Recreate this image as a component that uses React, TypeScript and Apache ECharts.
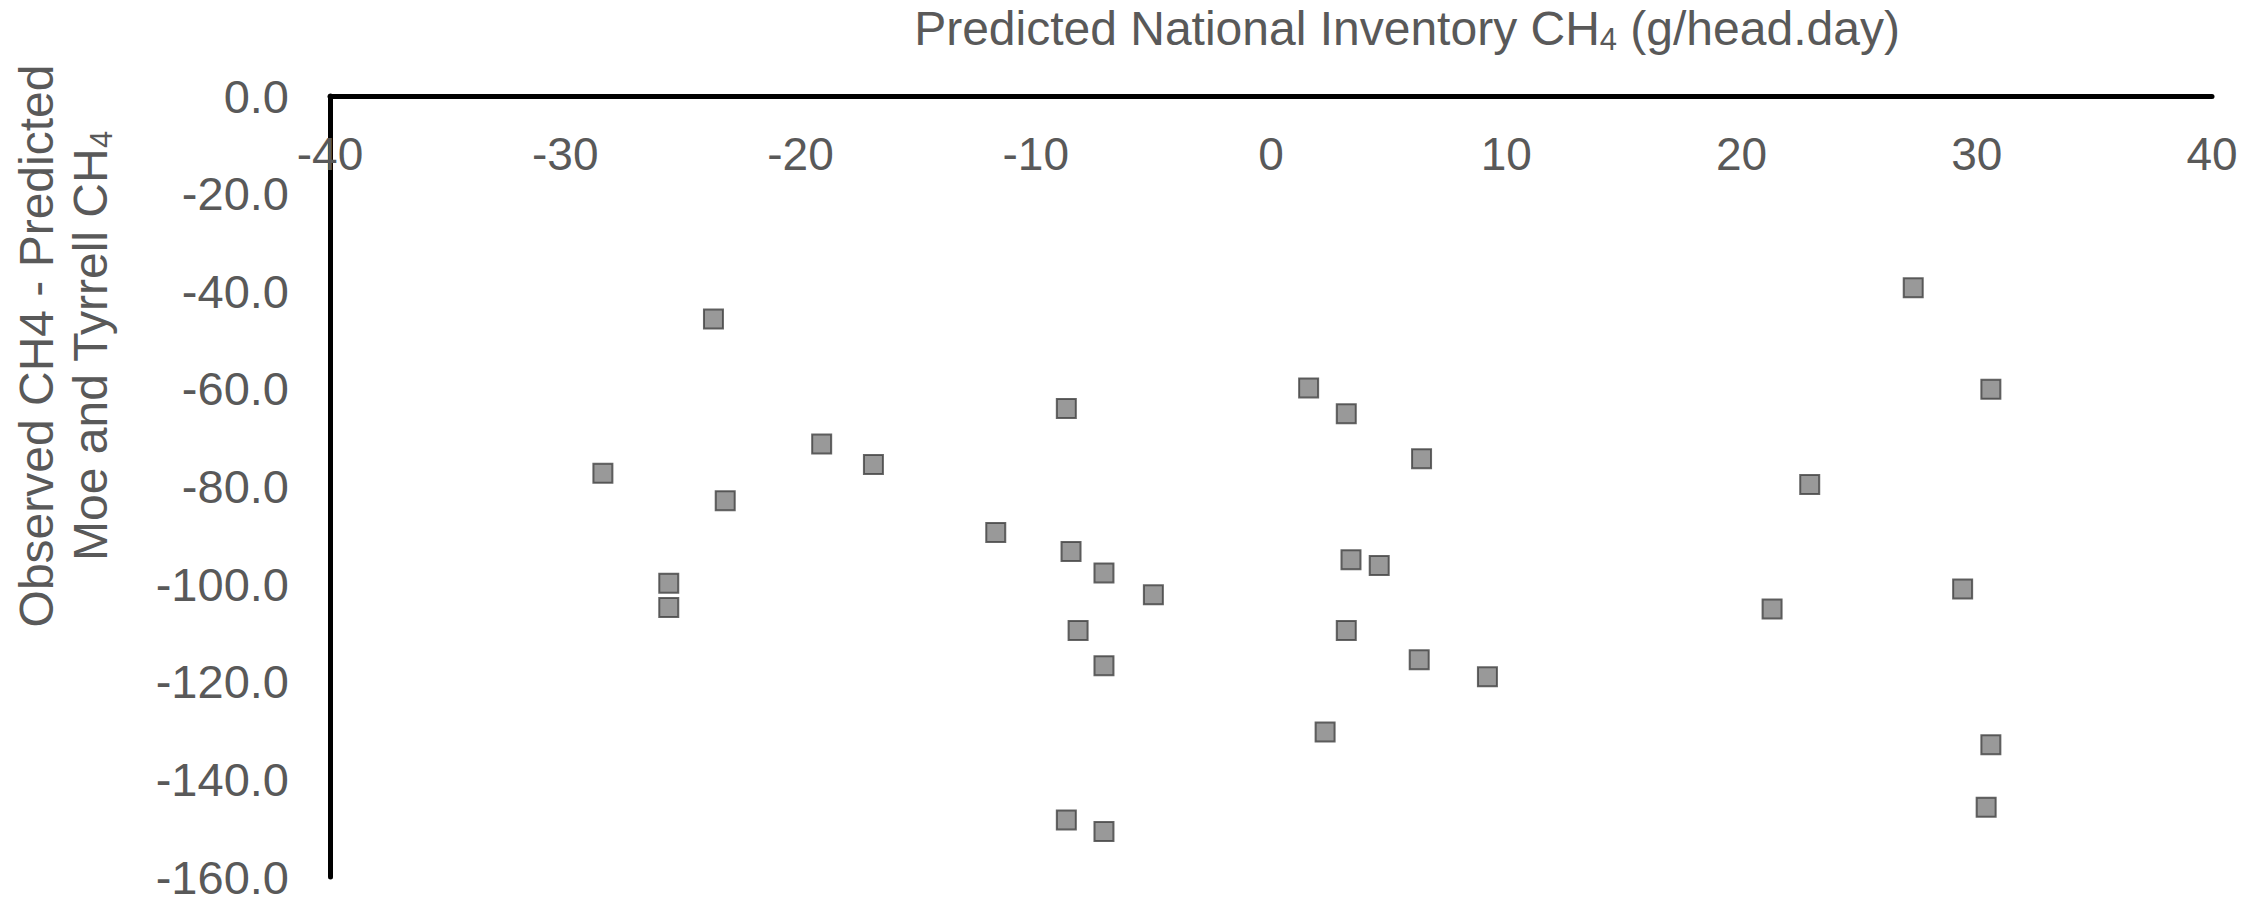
import React, { useEffect, useRef } from "react";
import * as echarts from "echarts";

// Predicted National Inventory CH4 (g/head.day)
const predictedNI: number[] = [
  -28.4, -23.7, -23.2, -25.6, -25.6, -19.1, -16.9, -11.7, -8.7, -8.5, -8.2,
  -7.1, -7.1, -5.0, -8.7, -7.1, 1.6, 3.2, 6.4, 3.4, 4.6, 3.2, 6.3, 9.2, 2.3,
  27.3, 30.6, 22.9, 21.3, 29.4, 30.6, 30.4,
];
// Observed CH4 - Predicted Moe and Tyrrell CH4
const residual: number[] = [
  -77.3, -45.7, -82.9, -99.8, -104.8, -71.3, -75.5, -89.4, -64.0, -93.3,
  -109.5, -97.7, -116.7, -102.2, -148.3, -150.7, -59.8, -65.1, -74.3, -95.0,
  -96.2, -109.5, -115.5, -119.0, -130.3, -39.3, -60.1, -79.6, -105.1, -101.0,
  -132.9, -145.7,
];

const xTitleParts = ["Predicted National Inventory CH", "4", " (g/head.day)"];
const yTitleLine1 = "Observed CH4 - Predicted";
const yTitleLine2Parts = ["Moe and Tyrrell CH", "4"];

const FONT = "'Liberation Sans', Arial, sans-serif";
const TEXT_COLOR = "#595959";

export default function App() {
  const ref = useRef<HTMLDivElement>(null);

  useEffect(() => {
    if (!ref.current) return;
    const chart = echarts.init(ref.current, undefined, { renderer: "svg" });
    const points = predictedNI.map((x, i) => [x, residual[i]]);

    const rich = {
      a: { fontSize: 48, fontFamily: FONT, fill: TEXT_COLOR, lineHeight: 54 },
      s: {
        fontSize: 31,
        fontFamily: FONT,
        fill: TEXT_COLOR,
        lineHeight: 14,
        verticalAlign: "bottom",
      },
    };

    chart.setOption({
      animation: false,
      backgroundColor: "#ffffff",
      grid: { left: 330, top: 96, right: 52, bottom: 25, containLabel: false },
      xAxis: {
        type: "value",
        position: "top",
        min: -40,
        max: 40,
        interval: 10,
        axisLine: { show: true, onZero: false, lineStyle: { color: "#000000", width: 5 } },
        axisTick: { show: false },
        splitLine: { show: false },
        axisLabel: {
          inside: true,
          margin: 35,
          fontSize: 46,
          fontFamily: FONT,
          color: TEXT_COLOR,
        },
      },
      yAxis: {
        type: "value",
        min: -160,
        max: 0,
        interval: 20,
        axisLine: { show: true, onZero: false, lineStyle: { color: "#000000", width: 5 } },
        axisTick: { show: false },
        splitLine: { show: false },
        axisLabel: {
          margin: 41,
          fontSize: 47,
          fontFamily: FONT,
          color: TEXT_COLOR,
          formatter: (v: number) => v.toFixed(1),
        },
      },
      graphic: [
        {
          type: "text",
          x: 1407,
          y: 28,
          style: {
            text: `{a|${xTitleParts[0]}}{s|${xTitleParts[1]}}{a|${xTitleParts[2]}}`,
            rich,
            fill: TEXT_COLOR,
            fontFamily: FONT,
            fontSize: 48,
            align: "center",
            verticalAlign: "middle",
          },
        },
        {
          type: "text",
          x: 63,
          y: 346,
          rotation: Math.PI / 2,
          style: {
            text: `{a|${yTitleLine1}}\n{a|${yTitleLine2Parts[0]}}{s|${yTitleLine2Parts[1]}}`,
            rich,
            fill: TEXT_COLOR,
            fontFamily: FONT,
            fontSize: 48,
            align: "center",
            verticalAlign: "middle",
          },
        },
      ],
      series: [
        {
          type: "scatter",
          data: points,
          symbol: "rect",
          symbolSize: 19,
          itemStyle: { color: "#808080", borderColor: "#404040", borderWidth: 2 },
        },
      ],
    });

    return () => chart.dispose();
  }, []);

  return (
    <div
      ref={ref}
      style={{ position: "absolute", left: 0, top: 0, width: 2264, height: 902 }}
    />
  );
}
